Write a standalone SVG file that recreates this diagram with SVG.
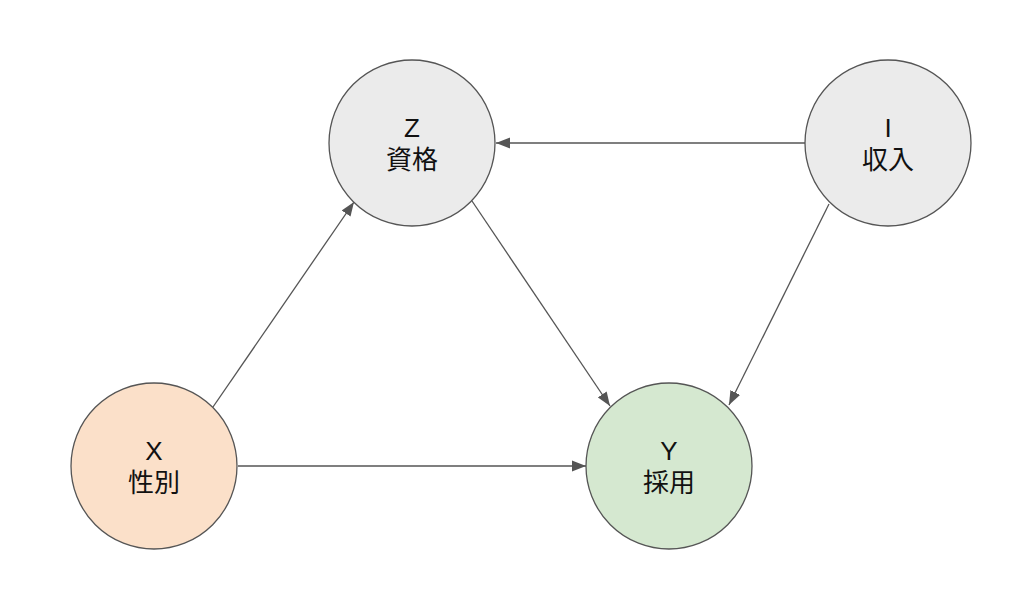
<svg xmlns="http://www.w3.org/2000/svg" width="1032" height="598" viewBox="0 0 1032 598">
<style>
.node{stroke:#555555;stroke-width:1.3}
.gray{fill:#ebebeb}
.orange{fill:#fbe0c9}
.green{fill:#d5e8d0}
.lbl{font-family:"Liberation Sans","Noto Sans CJK JP",sans-serif;font-size:26px;fill:#111111;text-anchor:middle}
.edge{stroke:#555555;stroke-width:1.3;fill:none;marker-end:url(#arr)}
</style>
<defs>
<marker id="arr" markerUnits="userSpaceOnUse" markerWidth="14" markerHeight="12" viewBox="0 0 13 10" refX="13" refY="5" orient="auto">
<path d="M0,0 L13,5 L0,10 Z" fill="#555555"/>
</marker>
</defs>
<rect width="1032" height="598" fill="#ffffff"/>
<g id="connectors">
<line class="edge" x1="805" y1="143" x2="496" y2="143"/>
<line class="edge" x1="213" y1="407" x2="354" y2="202"/>
<line class="edge" x1="472" y1="201" x2="610" y2="406"/>
<line class="edge" x1="829" y1="204" x2="729" y2="405"/>
<line class="edge" x1="238" y1="466" x2="586" y2="466"/>
</g>
<g id="Z">
<circle class="node gray" cx="412" cy="143" r="83"/>
<text class="lbl" x="412" y="137">Z</text>
<text class="lbl" x="412" y="169">資格</text>
</g>
<g id="I">
<circle class="node gray" cx="888" cy="143" r="83"/>
<text class="lbl" x="888" y="137">I</text>
<text class="lbl" x="888" y="169">収入</text>
</g>
<g id="X">
<circle class="node orange" cx="154" cy="466" r="83"/>
<text class="lbl" x="154" y="460">X</text>
<text class="lbl" x="154" y="492">性別</text>
</g>
<g id="Y">
<circle class="node green" cx="669" cy="466" r="83"/>
<text class="lbl" x="669" y="460">Y</text>
<text class="lbl" x="669" y="492">採用</text>
</g>
</svg>
